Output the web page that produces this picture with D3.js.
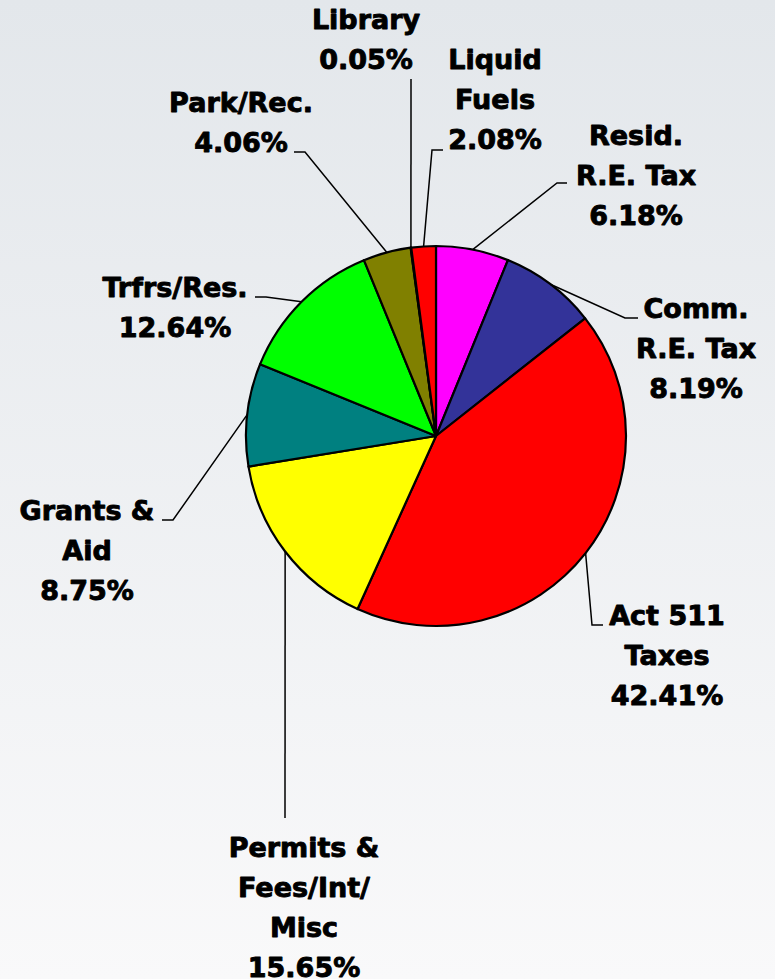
<!DOCTYPE html>
<html>
<head>
<meta charset="utf-8">
<script src="https://cdn.jsdelivr.net/npm/d3@7"></script>
<style>
  html, body { margin: 0; padding: 0; }
  body { width: 775px; height: 979px; overflow: hidden; }
</style>
</head>
<body>
<div id="pie"></div>
<script>
// slices, clockwise from 12 o'clock
const categories = ["Resid.\nR.E. Tax", "Comm.\nR.E. Tax", "Act 511\nTaxes", "Permits &\nFees/Int/\nMisc",
    "Grants &\nAid", "Trfrs/Res.", "Park/Rec.", "Library", "Liquid\nFuels"]
const values = [6.18, 8.19, 42.41, 15.65, 8.75, 12.64, 4.06, 0.05, 2.08]
const colors = ["#ff00ff", "#333399", "#ff0000", "#ffff00", "#008080", "#00ff00", "#808000", "#993366", "#ff0000"]

// label layout: text centre x, first baseline y, leader elbow and leader end
const labelPos = [
    { x: 636, y: 145, ex: 557, ey: 183, tx: 567 },
    { x: 696, y: 318, ex: 625, ey: 318, tx: 638 },
    { x: 667, y: 625, ex: 592, ey: 625, tx: 603 },
    { x: 304, y: 857, ex: 285, ey: 818, tx: 285 },
    { x: 87, y: 520, ex: 173, ey: 520, tx: 162 },
    { x: 175, y: 297, ex: 266, ey: 297, tx: 255 },
    { x: 241, y: 112, ex: 305, ey: 152, tx: 294 },
    { x: 366, y: 29, ex: 411, ey: 79, tx: 411 },
    { x: 495, y: 69, ex: 432, ey: 150, tx: 443 }
]

const width = 775, height = 979
const cx = 436, cy = 436, radius = 190
const lineH = 40

const svg = d3.select("#pie")
    .append("svg")
    .attr("width", width)
    .attr("height", height)

const grad = svg.append("defs").append("linearGradient")
    .attr("id", "bg").attr("x1", 0).attr("y1", 0).attr("x2", 0).attr("y2", 1)
grad.append("stop").attr("offset", "0%").attr("stop-color", "#e3e7eb")
grad.append("stop").attr("offset", "100%").attr("stop-color", "#f9f9fa")

svg.append("rect").attr("width", width).attr("height", height).attr("fill", "url(#bg)")

const data = categories.map((c, i) => ({ name: c, value: values[i], color: colors[i], pos: labelPos[i] }))

const pie = d3.pie().value(d => d.value).sort(null)
const arcs = pie(data)

const arc = d3.arc().innerRadius(0).outerRadius(radius)

const g = svg.append("g").attr("transform", `translate(${cx},${cy})`)

g.selectAll("path.slice").data(arcs).join("path")
    .attr("class", "slice")
    .attr("d", arc)
    .attr("fill", d => d.data.color)
    .attr("stroke", "#000")
    .attr("stroke-width", 2.2)
    .attr("stroke-linejoin", "round")

// leader lines from the rim at each slice's mid angle
const rimPoint = d => {
    const a = (d.startAngle + d.endAngle) / 2
    return [cx + radius * Math.sin(a), cy - radius * Math.cos(a)]
}

svg.selectAll("path.leader").data(arcs).join("path")
    .attr("class", "leader")
    .attr("d", d => {
        const p = d.data.pos
        const r = rimPoint(d)
        return d3.line()([r, [p.ex, p.ey], [p.tx, p.ey]])
    })
    .attr("fill", "none")
    .attr("stroke", "#000")
    .attr("stroke-width", 1.5)

const labels = svg.selectAll("text.lbl").data(arcs).join("text")
    .attr("class", "lbl")
    .attr("text-anchor", "middle")
    .style("font-family", "'DejaVu Sans', Verdana, sans-serif")
    .style("font-weight", "bold")
    .style("font-size", "27px")
    .attr("fill", "#000")
    .attr("stroke", "#000")
    .attr("stroke-width", 0.9)
    .attr("stroke-linejoin", "round")

labels.each(function (d) {
    const lines = d.data.name.split("\n").concat([d.data.value.toFixed(2) + "%"])
    d3.select(this).selectAll("tspan").data(lines).join("tspan")
        .attr("x", d.data.pos.x)
        .attr("y", (t, i) => d.data.pos.y + i * lineH)
        .text(t => t)
})
</script>
</body>
</html>
